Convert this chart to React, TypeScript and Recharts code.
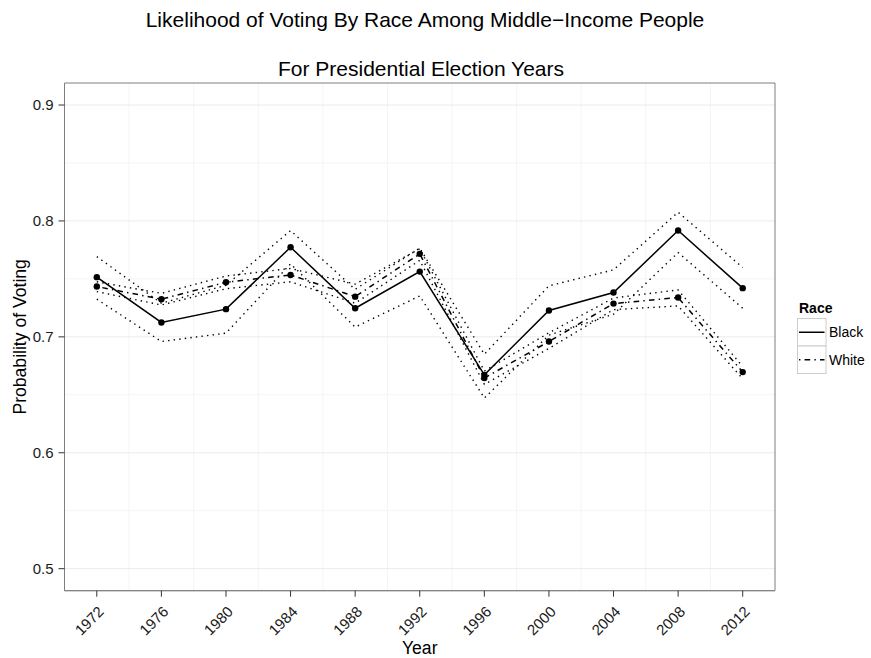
import { LineChart, Line, XAxis, YAxis, CartesianGrid, Legend, ReferenceArea } from "recharts";

// Presidential election years
const years = [1972, 1976, 1980, 1984, 1988, 1992, 1996, 2000, 2004, 2008, 2012];

// Estimated probability of voting, with interval bounds, by race
const blackProb = [0.7515, 0.7124, 0.7239, 0.7773, 0.7247, 0.7563, 0.6672, 0.7227, 0.7382, 0.7917, 0.742];
const blackLower = [0.7325, 0.696, 0.7032, 0.763, 0.7084, 0.7353, 0.6472, 0.7015, 0.7195, 0.7727, 0.7247];
const blackUpper = [0.7692, 0.729, 0.7445, 0.7917, 0.741, 0.7765, 0.685, 0.744, 0.7578, 0.8075, 0.7598];

const whiteProb = [0.7434, 0.7325, 0.7471, 0.7534, 0.7347, 0.7716, 0.6645, 0.696, 0.7287, 0.7339, 0.6696];
const whiteLower = [0.739, 0.7275, 0.7415, 0.7475, 0.729, 0.766, 0.659, 0.69, 0.7235, 0.7267, 0.6638];
const whiteUpper = [0.7475, 0.7375, 0.7525, 0.759, 0.7455, 0.776, 0.6705, 0.7035, 0.7335, 0.7405, 0.6744];

const yTicks = [0.5, 0.6, 0.7, 0.8, 0.9];
const yMinor = [0.55, 0.65, 0.75, 0.85];
const xMinor = [1974, 1978, 1982, 1986, 1990, 1994, 1998, 2002, 2006, 2010];
const yDomain = [0.481, 0.919];
const xDomain = [1970, 2014];
const races = ["Black", "White"];

const chartData = years.map((year, i) => ({
  year,
  blackProb: blackProb[i],
  blackLower: blackLower[i],
  blackUpper: blackUpper[i],
  whiteProb: whiteProb[i],
  whiteLower: whiteLower[i],
  whiteUpper: whiteUpper[i],
}));

const FONT = '"Liberation Sans", Arial, Helvetica, sans-serif';
const DOTTED = "1.4 4.2";
const DOTDASH = "1.4 4.2 5.6 4.2";

function YearTick({ x, y, payload }: any) {
  const ax = x + 8;
  const ay = y + 14;
  return (
    <text
      x={ax}
      y={ay}
      transform={`rotate(-45, ${ax}, ${ay})`}
      textAnchor="end"
      fontSize={15}
      fontFamily={FONT}
      fill="#1a1a1a"
    >
      {payload.value}
    </text>
  );
}

function RaceLegend() {
  return (
    <svg width={74} height={76} style={{ display: "block", fontFamily: FONT }}>
      <text x={2} y={12} fontSize={14} fontWeight="bold" fill="#000">
        Race
      </text>
      {races.map((race, i) => (
        <g key={race}>
          <rect x={0.5} y={17.5 + i * 27.5} width={28.5} height={27.5} fill="#fff" stroke="#cccccc" />
          <line
            x1={2}
            x2={27.5}
            y1={31.25 + i * 27.5}
            y2={31.25 + i * 27.5}
            stroke="#000"
            strokeWidth={1.5}
            strokeDasharray={i === 1 ? DOTDASH : undefined}
          />
          <text x={32} y={31.25 + i * 27.5} dy="0.355em" fontSize={14} fill="#000">
            {race}
          </text>
        </g>
      ))}
    </svg>
  );
}

export default function App() {
  return (
    <div style={{ position: "absolute", left: 0, top: 0, width: 871, height: 658, background: "#fff" }}>
      <svg width={871} height={83} style={{ position: "absolute", left: 0, top: 0, fontFamily: FONT }}>
        <text x={425} y={26.7} textAnchor="middle" fontSize={21} fill="#000">
          Likelihood of Voting By Race Among Middle−Income People
        </text>
        <text x={421} y={76} textAnchor="middle" fontSize={21} fill="#000">
          For Presidential Election Years
        </text>
      </svg>
      <LineChart
        width={871}
        height={658}
        data={chartData}
        margin={{ top: 83, right: 96, left: 0, bottom: 0 }}
        style={{ position: "absolute", left: 0, top: 0, fontFamily: FONT }}
      >
        <CartesianGrid stroke="#f4f4f4" horizontalValues={yMinor} verticalValues={xMinor} />
        <CartesianGrid stroke="#ebebeb" horizontalValues={yTicks} vertical={false} />
        <XAxis
          dataKey="year"
          type="number"
          domain={xDomain}
          ticks={years}
          interval={0}
          height={67.3}
          tickSize={6}
          tickMargin={2}
          tickLine={{ stroke: "#333" }}
          axisLine={{ stroke: "#7f7f7f" }}
          tick={<YearTick />}
          label={({ viewBox }: any) => (
            <text
              x={viewBox.x + viewBox.width / 2}
              y={654}
              textAnchor="middle"
              fontSize={17.6}
              fontFamily={FONT}
              fill="#000"
            >
              Year
            </text>
          )}
        />
        <YAxis
          type="number"
          domain={yDomain}
          ticks={yTicks}
          width={64.5}
          tickSize={6}
          tickMargin={5}
          tickLine={{ stroke: "#333" }}
          axisLine={{ stroke: "#7f7f7f" }}
          tick={{ fill: "#1a1a1a", fontSize: 15 }}
          label={({ viewBox }: any) => {
            const cy = viewBox.y + viewBox.height / 2;
            return (
              <text
                x={26}
                y={cy}
                transform={`rotate(-90, 26, ${cy})`}
                textAnchor="middle"
                fontSize={17.6}
                fontFamily={FONT}
                fill="#000"
              >
                Probability of Voting
              </text>
            );
          }}
        />

        {/* panel border */}
        <ReferenceArea
          x1={xDomain[0]}
          x2={xDomain[1]}
          y1={yDomain[0]}
          y2={yDomain[1]}
          fill="none"
          fillOpacity={0}
          stroke="#7f7f7f"
          strokeWidth={1}
        />

        {/* interval bounds */}
        <Line dataKey="blackLower" stroke="#000" strokeWidth={1.4} strokeDasharray={DOTTED} dot={false} isAnimationActive={false} legendType="none" />
        <Line dataKey="blackUpper" stroke="#000" strokeWidth={1.4} strokeDasharray={DOTTED} dot={false} isAnimationActive={false} legendType="none" />
        <Line dataKey="whiteLower" stroke="#000" strokeWidth={1.4} strokeDasharray={DOTTED} dot={false} isAnimationActive={false} legendType="none" />
        <Line dataKey="whiteUpper" stroke="#000" strokeWidth={1.4} strokeDasharray={DOTTED} dot={false} isAnimationActive={false} legendType="none" />

        {/* estimates */}
        <Line dataKey="blackProb" name="Black" stroke="#000" strokeWidth={1.5} dot={{ r: 3.2, fill: "#000", stroke: "none" }} isAnimationActive={false} />
        <Line dataKey="whiteProb" name="White" stroke="#000" strokeWidth={1.5} strokeDasharray={DOTDASH} dot={{ r: 3.2, fill: "#000", stroke: "none" }} isAnimationActive={false} />

        <Legend
          layout="horizontal"
          verticalAlign="middle"
          align="center"
          wrapperStyle={{ left: 797, top: 301, width: 74, height: 76, right: "auto", bottom: "auto" }}
          content={() => <RaceLegend />}
        />
      </LineChart>
    </div>
  );
}
